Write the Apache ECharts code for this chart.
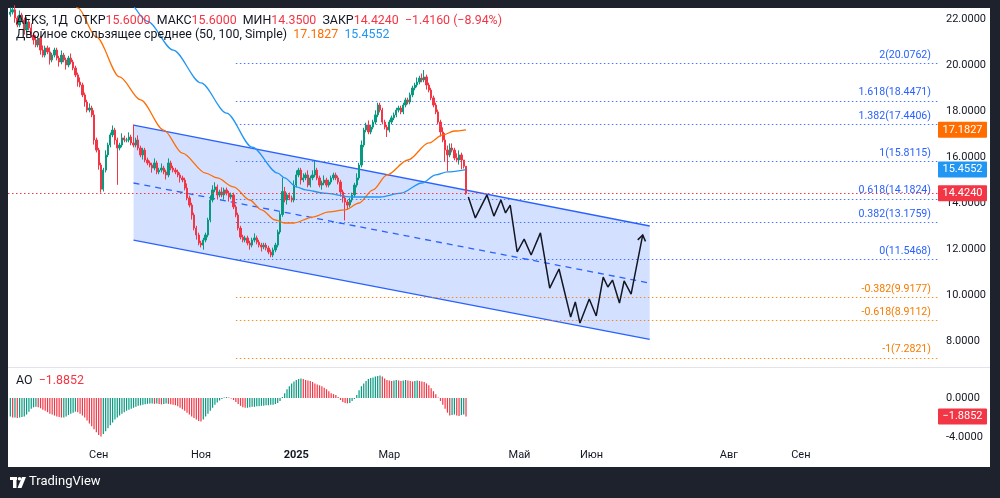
<!DOCTYPE html>
<html>
<head>
<meta charset="utf-8">
<script src="https://cdn.jsdelivr.net/npm/echarts@6/dist/echarts.min.js"></script>
<style>
  html, body { margin: 0; padding: 0; background: #1e222d; }
  #panel { position: absolute; left: 8px; top: 8px; width: 982px; height: 459px; background: #ffffff; }
  #chart-container { position: absolute; left: 0; top: 0; width: 1000px; height: 498px; }
</style>
</head>
<body>
<div id="panel"></div>
<div id="chart-container"></div>
<script>
// AFKS daily, bar index 0 = first visible candle
var firstOpen = 22.2;
var closes = [
  22.30, 22.40, 22.04, 21.74, 22.17, 21.96, 21.52, 21.87, 21.61, 21.30,
  21.09, 20.87, 21.17, 20.65, 20.43, 20.74, 20.57, 20.22, 20.43, 20.65,
  20.30, 20.13, 20.43, 20.22, 20.00, 20.30, 20.13, 19.87, 19.57, 19.26,
  19.13, 18.70, 18.39, 18.04, 18.13, 17.83, 16.74, 16.30, 15.65, 14.60,
  15.43, 16.09, 16.52, 16.96, 17.17, 16.74, 16.39, 16.52, 16.83, 16.74,
  16.74, 16.87, 16.61, 16.52, 16.74, 16.39, 16.09, 16.30, 15.87, 15.74,
  15.65, 15.52, 15.74, 15.35, 15.43, 15.52, 15.35, 15.22, 15.74, 15.52,
  15.43, 15.35, 15.22, 15.09, 15.00, 14.65, 14.22, 13.91, 13.48, 12.91,
  12.61, 12.26, 12.17, 12.39, 12.61, 13.26, 14.13, 14.57, 14.70, 14.35,
  14.48, 14.35, 14.57, 14.43, 14.26, 14.35, 13.83, 13.48, 12.91, 12.52,
  12.39, 12.48, 12.26, 12.17, 12.39, 12.48, 12.30, 12.17, 12.09, 12.17,
  12.04, 11.87, 11.74, 11.96, 12.17, 12.74, 13.50, 14.50, 14.13, 14.35,
  14.22, 14.13, 14.78, 15.22, 15.43, 15.00, 15.09, 15.22, 14.78, 15.09,
  15.22, 15.43, 15.09, 14.78, 14.87, 15.00, 14.78, 14.91, 15.09, 15.22,
  15.09, 14.91, 14.48, 14.22, 14.04, 13.91, 14.13, 14.35, 14.78, 15.09,
  15.65, 16.52, 17.17, 17.39, 17.09, 17.30, 17.52, 17.83, 18.26, 18.04,
  17.52, 17.30, 17.17, 17.52, 17.70, 17.83, 18.04, 18.13, 17.96, 18.26,
  18.48, 18.39, 18.70, 19.00, 19.13, 19.26, 19.43, 19.35, 19.48, 19.13,
  18.91, 18.57, 18.26, 17.96, 17.52, 17.09, 16.74, 16.30, 16.09, 16.39,
  16.30, 15.96, 15.87, 16.09, 15.87, 15.60, 14.424
];
// wick length above / below the body
var wickUp = [
  .2,.1,.2,.1,.2,.1,.1,.2,.1,.2,  .1,.2,.1,.1,.2,.1,.1,.2,.1,.1,
  .1,.1,.2,.1,.1,.1,.2,.1,.1,.1,  .2,.1,.1,.1,.2,.1,.2,.1,.1,.1,
  .1,.2,.1,.1,.2,.1,.1,.1,.2,.1,  .1,.2,.1,.8,.1,.2,.1,.1,.1,.1,
  .1,.1,.2,.1,.1,.2,.1,.1,.2,.1,  .1,.1,.1,.1,.1,.1,.2,.1,.1,.1,
  .1,.1,.1,.1,.1,.1,.2,.2,.2,.1,  .1,.2,.1,.1,.1,.1,.1,.1,.1,.1,
  .1,.1,.1,.1,.1,.2,.1,.1,.1,.1,  .1,.1,.1,.1,.1,.1,.1,.6,.2,.1,
  .1,.1,.2,.2,.1,.1,.2,.1,.2,.1,  .2,.4,.1,.1,.1,.2,.1,.1,.1,.1,
  .1,.1,.1,.1,.1,.1,.1,.1,.1,.2,  .1,.2,.1,.1,.2,.1,.1,.2,.1,.1,
  .1,.1,.1,.1,.1,.1,.1,.1,.1,.1,  .1,.1,.1,.1,.1,.2,.1,.2,.3,.1,
  .1,.1,.1,.1,.1,.1,.2,.3,.2,.2,  .2,.1,.2,.2,.1,0,0
];
var wickDn = [
  .1,.1,.2,.1,.1,.1,.2,.1,.1,.1,  .2,.1,.1,.2,.1,.1,.1,.2,.1,.1,
  .1,.2,.1,.1,.2,.1,.1,.1,.1,.2,  .1,.1,.2,.1,.1,.1,.2,.1,.2,.15,
  .1,.1,.1,.1,.1,.2,1.6,.1,.1,.1, .1,.1,.1,.1,.1,.1,.1,.2,.1,.1,
  .1,.2,.1,.1,.1,.1,.1,.2,.1,.1,  .1,.1,.1,.2,.1,.1,.1,.1,.2,.1,
  .2,.1,.1,.2,.1,.1,.1,.1,.1,.2,  .1,.1,.2,.1,.2,.1,.1,.1,.1,.1,
  .1,.1,.1,.2,.1,.1,.1,.1,.2,.1,  .1,.1,.1,.1,.1,.1,.1,.1,.1,.2,
  .1,.1,.1,.1,.1,.2,.1,.1,.1,.1,  .1,.1,.1,.1,.2,.1,.1,.1,.1,.1,
  .1,.1,.2,.2,.8,.2,.1,.1,.1,.1,  .1,.1,.1,.1,.1,.1,.1,.1,.1,.1,
  .1,.1,.3,.1,.1,.1,.1,.1,.1,.1,  .1,.1,.1,.1,.1,.1,.1,.1,.1,.2,
  .1,.1,.1,.1,.1,.2,.1,.5,.7,.1,  .1,.1,.1,.2,.4,.1,.07
];

// moving averages, [bar, value]
var sma50 = [[26,23.04],[29,22.48],[37,21.22],[47,19.48],[56,18.48],[66,17.17],[74,16.17],[84,15.30],
  [89,15.09],[96,14.70],[103,14.13],[108,13.70],[114,13.26],[118,13.13],[122,13.13],[130,13.39],
  [137,13.61],[144,13.70],[150,14.00],[156,14.57],[162,15.22],[171,15.87],[180,16.61],[186,16.96],
  [191,17.13],[196,17.1827]];
var sma100 = [[46,23.3],[49,22.95],[59,21.9],[70,20.65],[82,19.22],[93,17.91],[104,16.43],[115,15.30],
  [118,15.09],[123,14.70],[127,14.57],[135,14.43],[147,14.26],[159,14.26],[168,14.43],[177,14.87],
  [183,15.22],[188,15.35],[196,15.4552]];

// Awesome Oscillator
var aoValues = [
  -1.9,-2.0,-2.0,-2.05,-2.0,-1.95,-1.9,-1.7,
  -1.4,-1.1,-0.95,-0.9,-0.95,-1.05,
  -1.2,-1.3,-1.45,-1.6,-1.7,-1.8,-1.9,-1.95,-2.0,-2.0,
  -1.9,-1.75,-1.6,-1.5,-1.4,-1.45,
  -1.6,-1.8,-2.0,-2.3,-2.6,-2.9,-3.2,-3.5,-3.8,-3.95,
  -3.7,-3.4,-3.1,-2.8,-2.5,-2.2,-2.0,-1.8,-1.6,-1.45,-1.3,
  -1.2,-1.1,-1.0,-0.9,-0.8,-0.75,-0.7,-0.65,-0.6,-0.55,-0.55,
  -0.6,-0.55,-0.6,-0.65,-0.6,-0.55,-0.6,-0.65,-0.7,-0.75,
  -0.85,-1.0,-1.15,-1.3,-1.5,-1.7,-1.9,-2.05,-2.2,-2.35,-2.4,
  -2.2,-1.9,-1.6,-1.3,-1.0,-0.7,-0.45,-0.25,
  -0.1,0.05,0.1,0.05,-0.05,-0.2,-0.4,-0.6,-0.8,
  -0.95,-1.0,-1.0,-0.95,-0.9,-0.9,-0.85,-0.85,-0.8,-0.8,-0.75,-0.75,-0.7,-0.7,-0.6,-0.5,-0.3,
  0.1,0.5,0.9,1.2,1.5,1.7,1.85,1.95,
  2.0,1.95,1.85,1.8,1.75,1.65,1.5,1.4,1.3,1.2,1.05,0.9,0.7,
  0.5,0.4,0.3,0.1,-0.2,-0.4,-0.5,-0.55,-0.5,-0.3,-0.1,
  0.3,0.8,1.2,1.5,1.75,1.95,2.05,
  2.1,2.2,2.25,2.3,2.2,
  2.0,1.85,1.8,1.75,1.8,1.85,1.8,1.75,1.8,1.85,1.8,1.75,1.7,1.75,1.8,1.75,1.7,1.65,1.5,
  1.3,1.0,0.7,0.4,0.05,-0.3,
  -0.7,-1.1,-1.5,-1.8,-1.75,-1.7,-1.8,-1.85,-1.75,-1.7,-1.8852
];

// fibonacci levels
var fibStart = 97;
var fibLevels = ['2', '1.618', '1.382', '1', '0.618', '0.382', '0', '-0.382', '-0.618', '-1'];
var fibPrices = [20.0762, 18.4471, 17.4406, 15.8115, 14.1824, 13.1759, 11.5468, 9.9177, 8.9112, 7.2821];

// regression channel [start bar, end bar]
var channelX = [53, 275];
var channelUpper = [17.39, 13.0];
var channelMid = [14.87, 10.52];
var channelLower = [12.39, 8.07];

// projected path
var forecastX = [197, 200, 205, 208, 211, 213, 215, 218, 221, 224, 228, 232, 236, 241, 243, 245, 249, 252, 255, 257, 259, 262, 264, 267, 272];
var forecastY = [14.26, 13.35, 14.35, 13.43, 14.13, 13.57, 13.91, 11.87, 12.43, 11.74, 12.70, 10.30, 11.13, 9.04, 9.70, 8.78, 9.83, 9.09, 10.78, 10.35, 10.65, 9.65, 10.61, 10.04, 12.61];

// axes
var barMin = -1, barMax = 399;
var priceMin = 6.87, priceMax = 22.478;
var priceTicks = [8, 10, 12, 14, 16, 18, 20, 22];
var aoMin = -4.92, aoMax = 3.08;
var aoTicks = [0, -4];
var monthTicks = [38, 82, 123, 163, 219, 250, 309, 340];
var monthLabels = ['Сен', 'Ноя', '2025', 'Мар', 'Май', 'Июн', 'Авг', 'Сен'];

// legend values
var ticker = 'AFKS, 1Д';
var ohlcNames = ['ОТКР', 'МАКС', 'МИН', 'ЗАКР'];
var ohlcValues = ['15.6000', '15.6000', '14.3500', '14.4240'];
var changeText = '−1.4160 (−8.94%)';
var maTitle = 'Двойное скользящее среднее (50, 100, Simple)';
var priceTags = [17.1827, 15.4552, 14.4240];
var priceTagColors = ['#ff6d00', '#2196f3', '#f23645'];

var UP = '#089981', DOWN = '#f23645';
var FONT = 'Roboto, "Liberation Sans", sans-serif';
var LEGEND_FONT = '12.4px ' + FONT;

var candleData = closes.map(function (c, i) {
  var o = i === 0 ? firstOpen : closes[i - 1];
  var hi = Math.max(o, c) + wickUp[i];
  var lo = Math.min(o, c) - wickDn[i];
  return [i, o, c, lo, hi];
});
var aoData = aoValues.map(function (v, i) {
  var rising = i === 0 ? true : v >= aoValues[i - 1];
  return { value: [i, v], itemStyle: { color: rising ? UP : DOWN } };
});
var forecastData = forecastX.map(function (x, i) { return [x, forecastY[i]]; });
var fibData = fibPrices.map(function (p, i) { return [fibStart, p, i]; });

var dom = document.getElementById('chart-container');
var myChart = echarts.init(dom, null, { renderer: 'canvas' });

var legend1 = ticker + '  ';
ohlcNames.forEach(function (n, i) { legend1 += n + '{r|' + ohlcValues[i] + '}  '; });
legend1 += '{r|' + changeText + '}';

var option = {
  animation: false,
  backgroundColor: 'transparent',
  grid: [
    { left: 8, top: 8, width: 930, height: 359 },
    { left: 8, top: 368, width: 930, height: 78 }
  ],
  xAxis: [
    { gridIndex: 0, type: 'value', min: barMin, max: barMax, show: false },
    {
      gridIndex: 1, type: 'value', min: barMin, max: barMax,
      axisLine: { show: false }, axisTick: { show: false }, splitLine: { show: false },
      axisLabel: {
        customValues: monthTicks, margin: 4, color: '#131722', fontSize: 11, fontFamily: FONT,
        formatter: function (v) {
          var k = monthTicks.indexOf(v);
          var t = k >= 0 ? monthLabels[k] : '';
          return t === '2025' ? '{b|2025}' : t;
        },
        rich: { b: { fontWeight: 'bold', fontSize: 11, color: '#131722', fontFamily: FONT } }
      }
    }
  ],
  yAxis: [
    {
      gridIndex: 0, type: 'value', position: 'right', min: priceMin, max: priceMax,
      axisLine: { show: false }, axisTick: { show: false }, splitLine: { show: false },
      axisLabel: { customValues: priceTicks, margin: 8, color: '#131722', fontSize: 11, fontFamily: FONT,
        formatter: function (v) { return v.toFixed(4); } }
    },
    {
      gridIndex: 1, type: 'value', position: 'right', min: aoMin, max: aoMax,
      axisLine: { show: false }, axisTick: { show: false }, splitLine: { show: false },
      axisLabel: { customValues: aoTicks, margin: 8, color: '#131722', fontSize: 11, fontFamily: FONT,
        formatter: function (v) { return v.toFixed(4); } }
    }
  ],
  graphic: [
    { type: 'line', z: 50, shape: { x1: 8, y1: 367.5, x2: 990, y2: 367.5 }, style: { stroke: '#e0e3eb', lineWidth: 1 } },
    { type: 'text', left: 16, top: 15, z: 100,
      style: { text: legend1, font: LEGEND_FONT, fill: '#131722',
        rich: { r: { fill: '#f23645', font: LEGEND_FONT } } } },
    { type: 'text', left: 16, top: 29, z: 100,
      style: { text: maTitle + '  {o|' + priceTags[0].toFixed(4) + '}  {b|' + priceTags[1].toFixed(4) + '}',
        font: LEGEND_FONT, fill: '#131722',
        rich: { o: { fill: '#ff6d00', font: LEGEND_FONT }, b: { fill: '#2196f3', font: LEGEND_FONT } } } },
    { type: 'text', left: 16, top: 375, z: 100,
      style: { text: 'AO  {r|' + aoValues[aoValues.length - 1].toFixed(4).replace('-', '−') + '}',
        font: LEGEND_FONT, fill: '#131722', rich: { r: { fill: '#f23645', font: LEGEND_FONT } } } },
    // TradingView logo
    { type: 'group', left: 10, top: 477, z: 100, children: [
      { type: 'rect', shape: { x: 0, y: 0, width: 7, height: 3 }, style: { fill: '#ffffff' } },
      { type: 'rect', shape: { x: 3, y: 0, width: 3.5, height: 11 }, style: { fill: '#ffffff' } },
      { type: 'circle', shape: { cx: 9.5, cy: 1.8, r: 1.8 }, style: { fill: '#ffffff' } },
      { type: 'polygon', shape: { points: [[12, 0], [16, 0], [11.5, 11], [7.5, 11]] }, style: { fill: '#ffffff' } }
    ] },
    { type: 'text', left: 29, top: 475, z: 100,
      style: { text: 'TradingView', font: '13px ' + FONT, fill: '#ffffff' } }
  ],
  series: [
    {
      name: 'channel', type: 'custom', xAxisIndex: 0, yAxisIndex: 0, z: 1,
      data: [[channelX[0], channelUpper[0]]],
      renderItem: function (params, api) {
        var u0 = api.coord([channelX[0], channelUpper[0]]), u1 = api.coord([channelX[1], channelUpper[1]]);
        var m0 = api.coord([channelX[0], channelMid[0]]), m1 = api.coord([channelX[1], channelMid[1]]);
        var l0 = api.coord([channelX[0], channelLower[0]]), l1 = api.coord([channelX[1], channelLower[1]]);
        return { type: 'group', children: [
          { type: 'polygon', shape: { points: [u0, u1, l1, l0] }, style: { fill: 'rgba(41,98,255,0.2)' } },
          { type: 'line', shape: { x1: u0[0], y1: u0[1], x2: u1[0], y2: u1[1] }, style: { stroke: '#2962ff', lineWidth: 1.3 } },
          { type: 'line', shape: { x1: l0[0], y1: l0[1], x2: l1[0], y2: l1[1] }, style: { stroke: '#2962ff', lineWidth: 1.3 } },
          { type: 'line', shape: { x1: m0[0], y1: m0[1], x2: m1[0], y2: m1[1] }, style: { stroke: '#2962ff', lineWidth: 1.3, lineDash: [6, 5] } }
        ] };
      }
    },
    {
      name: 'fib', type: 'custom', xAxisIndex: 0, yAxisIndex: 0, z: 2,
      data: fibData,
      renderItem: function (params, api) {
        var p = api.value(1);
        var a = api.coord([fibStart, p]), b = api.coord([barMax, p]);
        var k = params.dataIndex;
        var col = parseFloat(fibLevels[k]) < 0 ? '#f57c00' : '#2962ff';
        return { type: 'group', children: [
          { type: 'line', shape: { x1: a[0], y1: Math.round(a[1]) + 0.5, x2: b[0], y2: Math.round(b[1]) + 0.5 },
            style: { stroke: col, lineWidth: 1, lineDash: [1.5, 2.5], opacity: 0.85 } },
          { type: 'text', x: b[0] - 7, y: a[1] - 8,
            style: { text: fibLevels[k] + '(' + p.toFixed(4) + ')', fill: col, font: '10.6px ' + FONT,
              align: 'right', verticalAlign: 'middle' } }
        ] };
      }
    },
    {
      name: 'AFKS', type: 'candlestick', xAxisIndex: 0, yAxisIndex: 0, z: 3,
      barWidth: 1.8,
      encode: { x: 0, y: [1, 2, 3, 4] },
      data: candleData,
      itemStyle: { color: UP, color0: DOWN, borderColor: UP, borderColor0: DOWN, borderWidth: 1 },
      markLine: {
        silent: true, symbol: 'none', label: { show: false },
        lineStyle: { color: DOWN, type: [1.5, 2.5], width: 1 },
        data: [{ yAxis: closes[closes.length - 1] }]
      }
    },
    {
      name: 'SMA50', type: 'line', xAxisIndex: 0, yAxisIndex: 0, z: 4, smooth: 0.3, smoothMonotone: 'x',
      showSymbol: false, data: sma50, lineStyle: { color: '#ff6d00', width: 1.3 }
    },
    {
      name: 'SMA100', type: 'line', xAxisIndex: 0, yAxisIndex: 0, z: 4, smooth: 0.3, smoothMonotone: 'x',
      showSymbol: false, data: sma100, lineStyle: { color: '#2196f3', width: 1.3 }
    },
    {
      name: 'forecast', type: 'line', xAxisIndex: 0, yAxisIndex: 0, z: 5,
      showSymbol: false, data: forecastData, lineStyle: { color: '#131722', width: 1.5 }
    },
    {
      name: 'arrow', type: 'custom', xAxisIndex: 0, yAxisIndex: 0, z: 5,
      data: [forecastData[forecastData.length - 1]],
      renderItem: function (params, api) {
        var n = forecastData.length;
        var tip = api.coord(forecastData[n - 1]), prev = api.coord(forecastData[n - 2]);
        var ang = Math.atan2(prev[1] - tip[1], prev[0] - tip[0]);
        var len = 7, spread = 0.6;
        var p1 = [tip[0] + len * Math.cos(ang + spread), tip[1] + len * Math.sin(ang + spread)];
        var p2 = [tip[0] + len * Math.cos(ang - spread), tip[1] + len * Math.sin(ang - spread)];
        return { type: 'polyline', shape: { points: [p1, tip, p2] }, style: { stroke: '#131722', lineWidth: 1.5, fill: null } };
      }
    },
    {
      name: 'tags', type: 'custom', xAxisIndex: 0, yAxisIndex: 0, z: 10,
      data: priceTags.map(function (p, i) { return [barMax, p, i]; }),
      renderItem: function (params, api) {
        var p = api.value(1);
        var y = api.coord([barMax, p])[1];
        var k = params.dataIndex;
        return { type: 'group', children: [
          { type: 'rect', shape: { x: 938, y: y - 8, width: 49, height: 16, r: 1 }, style: { fill: priceTagColors[k] } },
          { type: 'text', x: 962.5, y: y, style: { text: p.toFixed(4), fill: '#ffffff', font: '11px ' + FONT, align: 'center', verticalAlign: 'middle' } }
        ] };
      }
    },
    {
      name: 'AO', type: 'bar', xAxisIndex: 1, yAxisIndex: 1, barWidth: 1.2,
      data: aoData
    },
    {
      name: 'aoTag', type: 'custom', xAxisIndex: 1, yAxisIndex: 1, z: 10,
      data: [[barMax, aoValues[aoValues.length - 1]]],
      renderItem: function (params, api) {
        var v = api.value(1);
        var y = api.coord([barMax, v])[1];
        return { type: 'group', children: [
          { type: 'rect', shape: { x: 938, y: y - 8, width: 49, height: 16, r: 1 }, style: { fill: DOWN } },
          { type: 'text', x: 962.5, y: y, style: { text: v.toFixed(4).replace('-', '−'), fill: '#ffffff', font: '11px ' + FONT, align: 'center', verticalAlign: 'middle' } }
        ] };
      }
    }
  ]
};

myChart.setOption(option);
window.addEventListener('resize', myChart.resize);
</script>
</body>
</html>
